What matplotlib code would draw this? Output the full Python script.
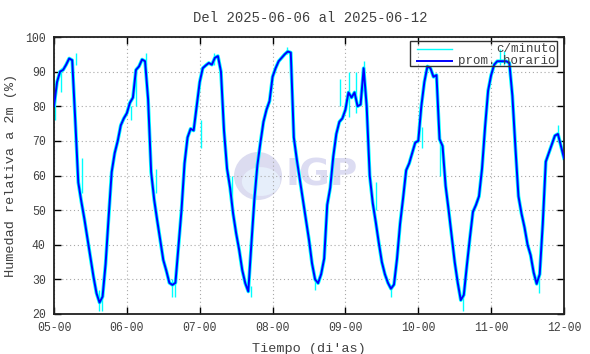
import matplotlib
matplotlib.use('Agg')
import matplotlib.pyplot as plt
from matplotlib.patches import Ellipse, Rectangle

# ---------------- data (hourly averages of relative humidity, %) ----------------
rh_day05 = [80, 87, 90, 90.5, 92, 93.8, 93.3, 76, 58, 52.5, 47.5, 42, 36.5, 30.8, 26, 23.3,
            25, 34.5, 48, 61, 66.5, 70, 74.5, 76.5]
rh_day06 = [78, 81, 82.5, 90.5, 91.5, 93.5, 93, 82, 61, 53, 47, 41.4, 35.6, 32.5, 29, 28.4,
            29, 39.5, 50, 63.5, 71, 73.5, 73, 80]
rh_day07 = [87, 91, 91.8, 92.5, 92, 94, 94.5, 90, 73, 62, 56.5, 49, 43.3, 38.5, 32.7, 28.9,
            26.5, 40, 53, 63, 69.5, 75.5, 79, 81.5]
rh_day08 = [88.5, 91, 93, 94, 95, 95.8, 95.5, 71, 64.5, 58.7, 53, 47, 41.4, 34.6, 30, 28.9,
            31.5, 36, 51.5, 56.5, 65.5, 72, 75.5, 76.5]
rh_day09 = [79, 84, 82.5, 84, 80, 80.5, 91, 80, 60, 52, 46.5, 40.5, 35, 31.5, 29, 27.3,
            28.5, 36, 46, 53.5, 61.5, 63.5, 66.5, 69.5]
rh_day10 = [70, 80, 87, 91.5, 91, 88.5, 89, 70.5, 68.5, 57, 50, 42.5, 35, 29, 24, 25.5,
            34, 42, 49.5, 51.5, 54, 62, 74, 84.5]
rh_day11 = [89, 92, 93, 93, 93, 93, 92.5, 83, 68, 54, 49, 45, 40, 37, 32, 28.7,
            31.5, 46, 64, 66.5, 69, 71.5, 72, 68.5]
rh_end = [65]

# per-minute excursions visible around the hourly curve (time in days, low, high)
spike_t = [5.02, 5.10, 5.30, 5.38, 5.62, 5.66, 6.05, 6.12, 6.26, 6.40, 6.62, 6.66,
           7.02, 7.20, 7.44, 7.70, 8.20, 8.58, 8.93, 9.05, 9.15, 9.25, 9.42, 9.62,
           10.05, 10.30, 10.62, 11.12, 11.18, 11.66, 11.92]
spike_lo = [76, 84, 92, 55, 21, 21, 76, 80, 92, 55, 25, 25,
            68, 92, 50, 25, 95, 27, 80, 77, 78, 90, 50, 25,
            68, 60, 21, 92, 92, 26, 70]
spike_hi = [84, 91, 95.5, 65, 27, 26, 80, 90, 95.5, 62, 30, 30,
            76, 95.5, 60, 28, 97, 30, 88, 90, 90, 93, 58, 28,
            74, 70, 26, 96.5, 96, 30, 74.5]

xtick_pos = [5, 6, 7, 8, 9, 10, 11, 12]
xtick_labels = ['05-00', '06-00', '07-00', '08-00', '09-00', '10-00', '11-00', '12-00']
ytick_pos = [20, 30, 40, 50, 60, 70, 80, 90, 100]

hourly = rh_day05 + rh_day06 + rh_day07 + rh_day08 + rh_day09 + rh_day10 + rh_day11 + rh_end
t_hourly = [5 + i / 24 for i in range(len(hourly))]

# ---------------- figure ----------------
MONO = ['Liberation Mono', 'DejaVu Sans Mono']
TXT = '#404040'
W, H = 590, 354
fig = plt.figure(figsize=(W / 100, H / 100), dpi=100)
L, R, T, B = 54, 564, 37, 314
ax = fig.add_axes([L / W, 1 - B / H, (R - L) / W, (B - T) / H])
ax.set_xlim(5, 12)
ax.set_ylim(20, 100)

# watermark logo
cx, cy = (258 - L) / (R - L), (B - 176) / (B - T)
rw, rh = 48 / (R - L), 48 / (B - T)
ax.add_patch(Ellipse((cx, cy), rw, rh, transform=ax.transAxes, color='#dcdcf0', zorder=0.1, lw=0))
ax.add_patch(Ellipse((cx + 0.006, cy - 0.02), rw * 0.8, rh * 0.6, transform=ax.transAxes,
                     color='#e6eefa', zorder=0.15, lw=0))
ax.text((322 - L) / (R - L), (B - 175) / (B - T), 'IGP', transform=ax.transAxes,
        ha='center', va='center', fontsize=27, fontweight='bold', color='#dcdcf2',
        family='DejaVu Sans', zorder=0.2)

ax.set_axisbelow(True)
ax.grid(True, color='#a8a8a8', lw=0.8, linestyle=(0, (1, 2.5)))

ax.plot(t_hourly, hourly, color='#00ffff', lw=2.6, solid_joinstyle='round', zorder=2)
ax.vlines(spike_t, spike_lo, spike_hi, color='#00ffff', lw=1.0, zorder=2)
ax.plot(t_hourly, hourly, color='#0000ff', lw=1.4, zorder=3)

ax.set_xticks(xtick_pos)
ax.set_xticklabels(xtick_labels)
ax.set_yticks(ytick_pos)
ax.tick_params(direction='in', top=True, right=True, length=5, width=1, color='black',
               labelcolor=TXT, labelsize=8.3, pad=6)
for lab in ax.get_xticklabels() + ax.get_yticklabels():
    lab.set_family(MONO)
for s in ax.spines.values():
    s.set_linewidth(1.3)
    s.set_color('#202020')

ax.set_xlabel("Tiempo (di'as)", family=MONO, fontsize=9.7, color=TXT, labelpad=6)
ax.set_ylabel('Humedad relativa a 2m (%)', family=MONO, fontsize=9.7, color=TXT, labelpad=6)
fig.text(310 / W, 1 - 18 / H, 'Del 2025-06-06 al 2025-06-12', ha='center', va='center',
         family=MONO, fontsize=10, color=TXT)

# legend (gnuplot style, transparent box)
def ax_x(px):
    return (px - L) / (R - L)

def ax_y(py):
    return (B - py) / (B - T)

ax.add_patch(Rectangle((ax_x(410), ax_y(66)), ax_x(557) - ax_x(410), ax_y(41) - ax_y(66),
                       transform=ax.transAxes, fill=False, edgecolor='#303030', lw=1, zorder=4))
ax.plot([ax_x(417), ax_x(452)], [ax_y(48.5)] * 2, transform=ax.transAxes, color='#00ffff', lw=1, zorder=5)
ax.plot([ax_x(417), ax_x(452)], [ax_y(61)] * 2, transform=ax.transAxes, color='#0000ff', lw=1.4, zorder=5)
ax.text(ax_x(556), ax_y(48.5), 'c/minuto', transform=ax.transAxes, ha='right', va='center',
        family=MONO, fontsize=9, color=TXT, zorder=5)
ax.text(ax_x(556), ax_y(61), 'prom. horario', transform=ax.transAxes, ha='right', va='center',
        family=MONO, fontsize=9, color=TXT, zorder=5)

fig.savefig('out.png', dpi=100)
